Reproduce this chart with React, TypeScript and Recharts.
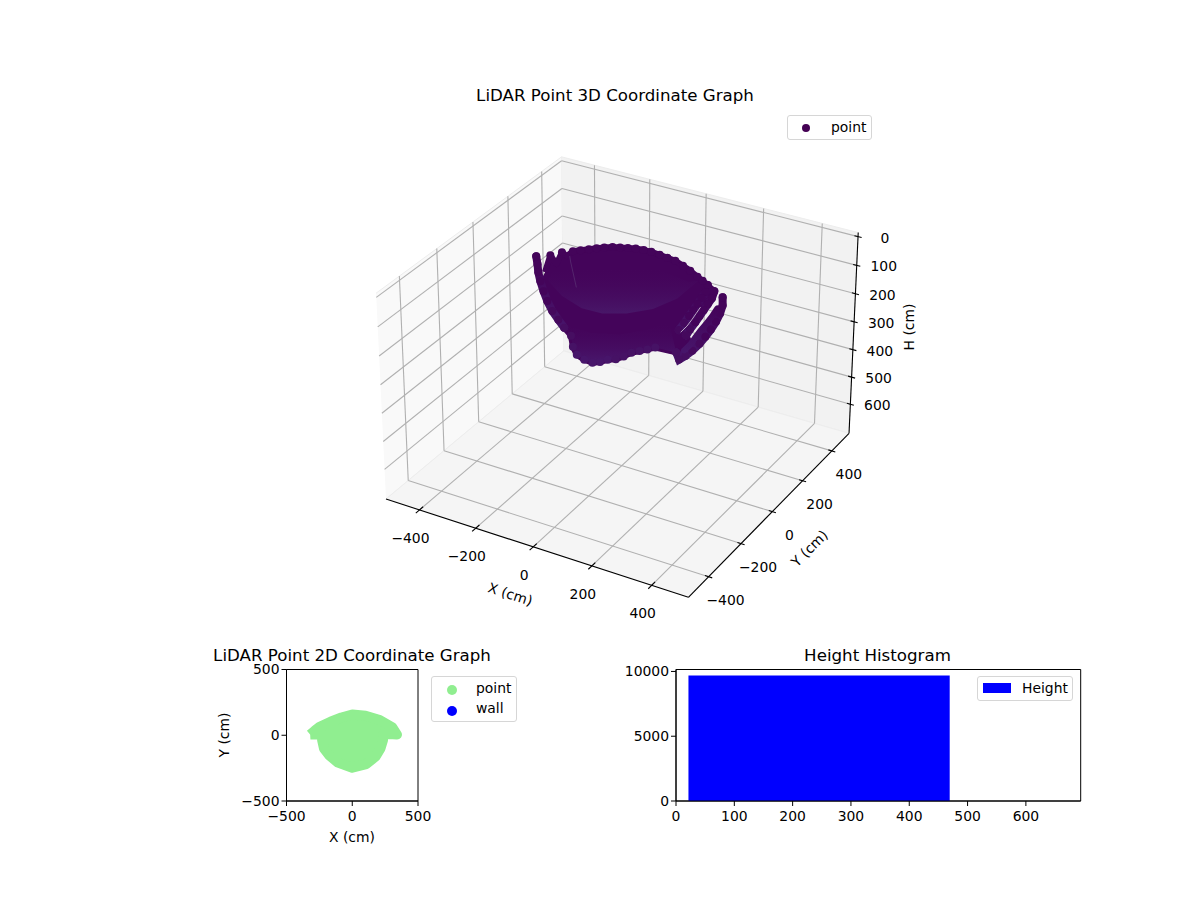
import React from 'react';
import {
  ScatterChart, Scatter, BarChart, Bar, XAxis, YAxis, ReferenceArea,
} from 'recharts';

// 3D view: [x, y, height] in cm
const armOne = [[-274, -37, 22], [-262, -50, 40], [-262, -46, 70], [-256, -45, 100], [-244, -47, 130], [-230, -49, 160], [-213, -49, 190], [-197, -41, 220], [-175, -44, 240]];
const armTwoLeft = [[-241, -10, 22]];
const armThreeLeft = [[-221, 24, 22]];
const rimNotches = [[-199, -110, 22], [-196, -49, 22], [-195, 10, 22]];
const mainRim = [[-196, 46, 22], [-179, 63, 22], [-161, 81, 22], [-144, 98, 22], [-126, 113, 22], [-106, 128, 22], [-85, 137, 22], [-63, 146, 22], [-41, 155, 22], [-16, 159, 22], [10, 160, 22], [41, 156, 22], [70, 151, 22], [100, 146, 22], [135, 130, 22], [169, 113, 22], [206, 90, 22], [231, 76, 22]];
const armThree = [[256, 61, 22], [248, 64, 50], [234, 65, 75], [220, 66, 100], [206, 66, 125], [192, 67, 150], [179, 61, 175], [169, 47, 195]];
const armTwo = [[291, 37, 22], [282, 40, 50], [268, 41, 75], [254, 42, 100], [240, 42, 125], [226, 43, 150], [212, 37, 175], [203, 30, 195]];
const innerRay = [[300, 41, 80], [285, 37, 110], [266, 39, 140], [251, 31, 165], [237, 25, 190], [224, 18, 215], [209, 8, 235]];
const outerRay = [[330, 16, 22], [330, 17, 50], [322, 17, 80], [310, 15, 110], [295, 12, 140], [281, 5, 165], [266, -3, 190], [247, -12, 215], [228, -19, 235], [210, -25, 250], [186, 1, 245]];
const frontEdge = [[-150, -46, 260], [-137, -57, 290], [-120, -63, 310], [-94, -63, 320], [-63, -67, 320], [-37, -66, 310], [-15, -58, 300], [6, -46, 298], [23, -28, 292], [39, -10, 284], [58, 6, 280], [77, 20, 276], [95, 36, 272]];
const frontRimEdge = [[-166, -149, 22], [-81, -210, 22], [8, -246, 22], [75, -243, 22], [136, -208, 22], [189, -147, 22], [219, -56, 22], [220, 77, 22]];
const innerShadeTop = [[-215, -39, 60], [-150, 43, 60], [-55, 84, 60], [54, 133, 60], [167, 111, 60]];
const lowerShadeTop = [[-193, -12, 250], [-99, -16, 250], [-17, 18, 250], [43, 90, 250], [69, 165, 250]];
const hairOne = [[237, 54, 100], [223, 54, 125], [209, 55, 150], [195, 49, 175], [180, 38, 195]];
const hairTwo = [[-188, 14, 22], [-166, -17, 22], [-70, -145, 22]];

const xTicks3d = [-400, -200, 0, 200, 400];
const yTicks3d = [-400, -200, 0, 200, 400];
const hTicks3d = [0, 100, 200, 300, 400, 500, 600];

// 2D footprint of the same scan: [x, y] in cm
const footprint = [[-320, 5], [-286, 34], [-247, 65], [-165, 103], [-82, 135], [0, 158], [101, 148], [209, 115], [305, 60], [340, 5], [310, 8], [234, 8], [234, -37], [215, -100], [177, -163], [106, -219], [0, -247], [-109, -208], [-177, -151], [-215, -100], [-229, -37], [-229, 8], [-300, 6]];

const histBins = [{ center: 246, count: 9690 }];
const histFrom = 22;
const histTo = 470;

const FONT = '"DejaVu Sans", sans-serif';
const TICK_SIZE = 13.9;
const X_MIN = -520.8, X_MAX = 520.8, H_TOP = -14, H_BOTTOM = 708;

// perspective of the mplot3d camera (elev 30, azim -60), result in view units
function project(x: number, y: number, h: number) {
  const sx = x / 520.8 * 0.5952;
  const sy = y / 520.8 * 0.5952;
  const sz = (347 - h) / 361 * 0.404;
  const xv = 0.866 * sx + 0.5 * sy;
  const yv = -0.25 * sx + 0.433 * sy + 0.866 * sz;
  const zv = 0.433 * sx - 0.75 * sy + 0.5 * sz;
  const d = 10 - zv;
  return { u: xv / d, v: yv / d, x, y, h };
}
const pts = (list: number[][]) => list.map(p => project(p[0], p[1], p[2]));
const seg = (a: number[], b: number[]) => pts([a, b]);

const PX = 2904, CX = 621.8, CY = 366;
const uDomain = [(0 - CX) / PX, (1200 - CX) / PX];
const vDomain = [-(900 - CY) / PX, CY / PX];

const Blank = () => <g />;

function dotColor(h: number) {
  if (h >= 300) return '#47156a';
  if (h >= 270) return '#461265';
  if (h >= 230) return '#460e61';
  if (h >= 170) return '#45095d';
  return '#44045a';
}
const Dot = (p: any) => <circle cx={p.cx} cy={p.cy} r={4} fill={dotColor(p.payload.h)} />;

const labelShape = (dx: number, dy: number) => (p: any) => (
  <text x={p.cx + dx} y={p.cy + dy} textAnchor="middle" dominantBaseline="central" fontSize={TICK_SIZE} fontFamily={FONT} fill="#000">
    {String(p.payload.text).replace('-', '\u2212')}
  </text>
);

const axisText = (text: string, left: number, top: number, rotate: number, size = TICK_SIZE) => (
  <div style={{ position: 'absolute', left, top, transform: `translate(-50%, -50%) rotate(${rotate}deg)`, fontSize: size, whiteSpace: 'nowrap', lineHeight: 1, color: '#000' }}>
    {text}
  </div>
);

const legendBox = (left: number, top: number, width: number, height: number) => (
  <div style={{ position: 'absolute', left, top, width, height, boxSizing: 'border-box', border: '1px solid #d6d6d6', borderRadius: 3, background: 'rgba(255,255,255,0.8)' }} />
);
const legendDot = (cx: number, cy: number, r: number, color: string) => (
  <div style={{ position: 'absolute', left: cx - r, top: cy - r, width: r * 2, height: r * 2, borderRadius: '50%', background: color }} />
);
const legendLabel = (text: string, left: number, cy: number) => (
  <div style={{ position: 'absolute', left, top: cy - 8, fontSize: TICK_SIZE, lineHeight: '16px', color: '#000' }}>{text}</div>
);

function Panel3D() {
  const gridLines: any[] = [];
  xTicks3d.forEach(x => {
    gridLines.push(seg([x, X_MIN, H_BOTTOM], [x, X_MAX, H_BOTTOM]));
    gridLines.push(seg([x, X_MAX, H_BOTTOM], [x, X_MAX, H_TOP]));
  });
  yTicks3d.forEach(y => {
    gridLines.push(seg([X_MIN, y, H_BOTTOM], [X_MAX, y, H_BOTTOM]));
    gridLines.push(seg([X_MIN, y, H_BOTTOM], [X_MIN, y, H_TOP]));
  });
  hTicks3d.forEach(h => {
    gridLines.push(seg([X_MIN, X_MIN, h], [X_MIN, X_MAX, h]));
    gridLines.push(seg([X_MIN, X_MAX, h], [X_MAX, X_MAX, h]));
  });

  const axisLines = [
    seg([X_MIN, X_MIN, H_BOTTOM], [X_MAX, X_MIN, H_BOTTOM]),
    seg([X_MAX, X_MIN, H_BOTTOM], [X_MAX, X_MAX, H_BOTTOM]),
    seg([X_MAX, X_MAX, H_BOTTOM], [X_MAX, X_MAX, H_TOP]),
    ...xTicks3d.map(x => seg([x, X_MIN - 20, H_BOTTOM], [x, X_MIN + 20, H_BOTTOM])),
    ...yTicks3d.map(y => seg([X_MAX - 12, y, H_BOTTOM], [X_MAX + 12, y, H_BOTTOM])),
    ...hTicks3d.map(h => seg([X_MAX - 12, X_MAX, h], [X_MAX + 12, X_MAX, h])),
  ];

  const panes = [
    { fill: '#f9f9f9', data: pts([[X_MIN, X_MIN, H_TOP], [X_MIN, X_MAX, H_TOP], [X_MIN, X_MAX, H_BOTTOM], [X_MIN, X_MIN, H_BOTTOM]]) },
    { fill: '#f2f2f2', data: pts([[X_MIN, X_MAX, H_TOP], [X_MAX, X_MAX, H_TOP], [X_MAX, X_MAX, H_BOTTOM], [X_MIN, X_MAX, H_BOTTOM]]) },
    { fill: '#f5f5f5', data: pts([[X_MIN, X_MIN, H_BOTTOM], [X_MIN, X_MAX, H_BOTTOM], [X_MAX, X_MAX, H_BOTTOM], [X_MAX, X_MIN, H_BOTTOM]]) },
  ];

  const tip = outerRay[outerRay.length - 1];
  const frontBack = [...frontEdge].reverse();
  const bodyOutline = [
    rimNotches[0], ...armTwoLeft, rimNotches[1], ...armThreeLeft, rimNotches[2], ...mainRim,
    ...armTwo, innerRay[5], innerRay[6], tip, ...frontBack, ...[...armOne].reverse().slice(0, 6),
  ];
  const outerArm = [...outerRay, ...[...innerRay].reverse()];
  const rays = [armOne, armTwo, armThree, outerRay];

  return (
    <ScatterChart width={1200} height={900} margin={{ top: 0, right: 0, bottom: 0, left: 0 }} style={{ position: 'absolute', left: 0, top: 0 }}>
      <defs>
        <linearGradient id="innerGrad" x1="0" y1="0" x2="0" y2="1">
          <stop offset="0%" stopColor="#44045a" stopOpacity={0} />
          <stop offset="100%" stopColor="#481768" stopOpacity={1} />
        </linearGradient>
        <linearGradient id="lowerGrad" x1="0" y1="0" x2="0" y2="1">
          <stop offset="0%" stopColor="#44045a" stopOpacity={0} />
          <stop offset="100%" stopColor="#48186c" stopOpacity={1} />
        </linearGradient>
        <linearGradient id="armGrad" x1="0" y1="0" x2="0" y2="1">
          <stop offset="0%" stopColor="#44035a" />
          <stop offset="100%" stopColor="#47156a" />
        </linearGradient>
      </defs>
      <XAxis type="number" dataKey="u" domain={uDomain} hide />
      <YAxis type="number" dataKey="v" domain={vDomain} hide />
      {panes.map((p, i) => (
        <Scatter key={'pane' + i} data={p.data} shape={Blank} line={{ fill: p.fill, stroke: '#ededed', strokeWidth: 1 }} isAnimationActive={false} />
      ))}
      {gridLines.map((d, i) => (
        <Scatter key={'grid' + i} data={d} shape={Blank} line={{ stroke: '#b0b0b0', strokeWidth: 1.1 }} isAnimationActive={false} />
      ))}
      {axisLines.map((d, i) => (
        <Scatter key={'axis' + i} data={d} shape={Blank} line={{ stroke: '#000', strokeWidth: 1.1 }} isAnimationActive={false} />
      ))}
      <Scatter data={xTicks3d.map(x => ({ ...project(x, X_MIN, H_BOTTOM), text: x }))} shape={labelShape(-9, 28)} isAnimationActive={false} />
      <Scatter data={yTicks3d.map(y => ({ ...project(X_MAX, y, H_BOTTOM), text: y }))} shape={labelShape(17, 23)} isAnimationActive={false} />
      <Scatter data={hTicks3d.map(h => ({ ...project(X_MAX, X_MAX, h), text: h }))} shape={labelShape(27, 1)} isAnimationActive={false} />

      <Scatter data={pts(bodyOutline)} shape={Blank} line={{ fill: '#44045a', stroke: '#44045a', strokeWidth: 6, strokeLinejoin: 'round' }} isAnimationActive={false} />
      <Scatter data={pts([...frontRimEdge, ...[...innerShadeTop].reverse()])} shape={Blank} line={{ fill: 'url(#innerGrad)', stroke: 'none' }} isAnimationActive={false} />
      <Scatter data={pts([...lowerShadeTop, tip, ...frontBack])} shape={Blank} line={{ fill: 'url(#lowerGrad)', stroke: 'none' }} isAnimationActive={false} />
      <Scatter data={pts(outerArm)} shape={Blank} line={{ fill: 'url(#armGrad)', stroke: 'none' }} isAnimationActive={false} />
      {rays.map((r, i) => (
        <Scatter key={'ray' + i} data={pts(r)} shape={Dot} line={{ stroke: 'url(#armGrad)', strokeWidth: 8, strokeLinecap: 'round' }} isAnimationActive={false} />
      ))}
      <Scatter data={pts(innerRay)} shape={Blank} line={{ stroke: 'url(#armGrad)', strokeWidth: 6, strokeLinecap: 'round' }} isAnimationActive={false} />
      <Scatter data={pts(mainRim)} shape={Dot} isAnimationActive={false} />
      <Scatter data={pts([...armTwoLeft, ...armThreeLeft])} shape={Dot} isAnimationActive={false} />
      <Scatter data={pts(frontEdge)} shape={Dot} isAnimationActive={false} />
      <Scatter data={pts(hairOne)} shape={Blank} line={{ stroke: '#d9cfe0', strokeWidth: 0.8 }} isAnimationActive={false} />
      <Scatter data={pts(hairTwo)} shape={Blank} line={{ stroke: '#5e3a78', strokeWidth: 0.6 }} isAnimationActive={false} />
    </ScatterChart>
  );
}

function Panel2D() {
  const data = footprint.map(p => ({ x: p[0], y: p[1] }));
  const tick = { fill: '#000', fontSize: TICK_SIZE };
  const minus = (v: number) => String(v).replace('-', '\u2212');
  return (
    <ScatterChart width={240} height={220} margin={{ top: 29.5, right: 22, bottom: 19, left: 26.5 }} style={{ position: 'absolute', left: 200, top: 640 }}>
      <XAxis type="number" dataKey="x" domain={[-500, 500]} ticks={[-500, 0, 500]} interval={0} height={40} tick={tick} tickSize={5} tickMargin={5} stroke="#000" tickFormatter={minus} />
      <YAxis type="number" dataKey="y" domain={[-500, 500]} ticks={[-500, 0, 500]} interval={0} width={60} tick={tick} tickSize={5} stroke="#000" tickFormatter={minus} />
      <ReferenceArea x1={-500} x2={500} y1={-500} y2={500} fill="none" stroke="#000" strokeWidth={1} fillOpacity={0} />
      <Scatter data={[...data, data[0]]} name="point" fill="#90ee90" shape={Blank} line={{ fill: '#90ee90', stroke: '#90ee90', strokeWidth: 10, strokeLinejoin: 'round' }} isAnimationActive={false} />
    </ScatterChart>
  );
}

function PanelHist() {
  const tick = { fill: '#000', fontSize: TICK_SIZE };
  const plotWidth = 404.7;
  const xMax = 694;
  return (
    <BarChart width={480} height={220} data={histBins} margin={{ top: 29.5, right: 19.3, bottom: 19, left: 6 }} style={{ position: 'absolute', left: 620, top: 640 }}>
      <XAxis type="number" dataKey="center" domain={[0, xMax]} ticks={[0, 100, 200, 300, 400, 500, 600]} interval={0} height={40} tick={tick} tickSize={5} tickMargin={5} stroke="#000" />
      <YAxis type="number" domain={[0, 10150]} ticks={[0, 5000, 10000]} interval={0} width={50} tick={tick} tickSize={5} stroke="#000" />
      <Bar dataKey="count" name="Height" fill="#0000ff" barSize={(histTo - histFrom) / xMax * plotWidth} isAnimationActive={false} />
      <ReferenceArea x1={0} x2={xMax} y1={0} y2={10150} fill="none" stroke="#000" strokeWidth={1} fillOpacity={0} />
    </BarChart>
  );
}

export default function App() {
  return (
    <div style={{ position: 'absolute', left: 0, top: 0, width: 1200, height: 900, background: '#fff', overflow: 'hidden', fontFamily: FONT }}>
      <Panel3D />
      <Panel2D />
      <PanelHist />

      {axisText('LiDAR Point 3D Coordinate Graph', 615, 95.5, 0, 16.67)}
      {axisText('LiDAR Point 2D Coordinate Graph', 352, 656, 0, 16.67)}
      {axisText('Height Histogram', 877.5, 656, 0, 16.67)}
      {axisText('X (cm)', 510, 595, 18)}
      {axisText('Y (cm)', 810, 549, -45)}
      {axisText('H (cm)', 910, 327, -90)}
      {axisText('X (cm)', 352, 838, 0)}
      {axisText('Y (cm)', 225, 735, -90)}

      {legendBox(787, 115, 85, 25)}
      {legendDot(806, 127.5, 4, '#440154')}
      {legendLabel('point', 831, 127)}

      {legendBox(431, 676, 86, 46)}
      {legendDot(451.5, 689.5, 5, '#90ee90')}
      {legendDot(451.5, 710.5, 5, '#0000ff')}
      {legendLabel('point', 476, 688)}
      {legendLabel('wall', 476, 708)}

      {legendBox(977, 676, 96, 25)}
      <div style={{ position: 'absolute', left: 983, top: 683, width: 28, height: 10, background: '#0000ff' }} />
      {legendLabel('Height', 1022, 688)}
    </div>
  );
}
